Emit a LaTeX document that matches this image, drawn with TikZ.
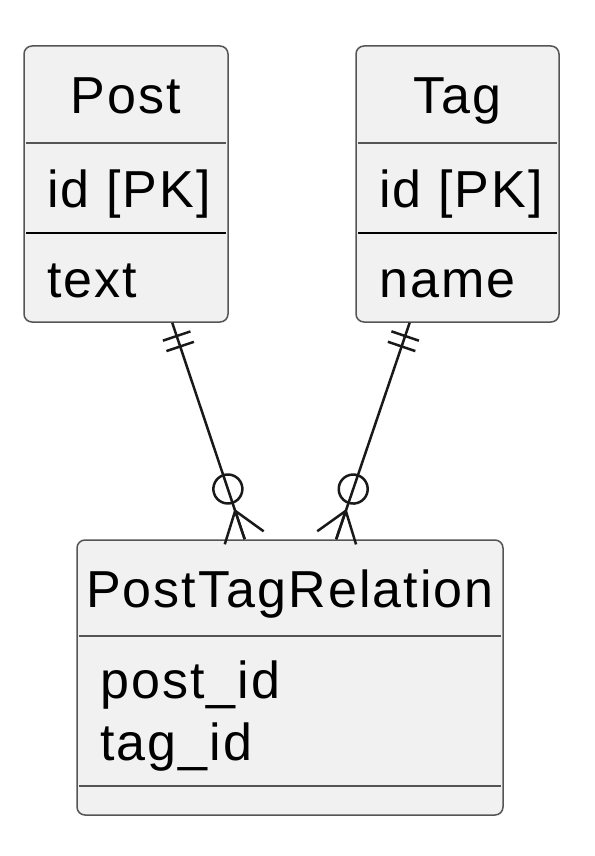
\documentclass[tikz,border=0pt]{standalone}
\usepackage{fontspec}
\setmainfont{Liberation Sans}
\newfontfamily\entfont[LetterSpace=4]{Liberation Sans}
\usepackage{tikz}
\usetikzlibrary{calc, decorations.markings}
\definecolor{entfill}{RGB}{241,241,241}
\definecolor{entline}{RGB}{85,85,85}

\begin{document}
\begin{tikzpicture}[
    entbox/.style = {rectangle, draw=entline, fill=entfill, line width=0.03cm, rounded corners=0.16cm, minimum height=5.52cm, inner sep=0pt},
    enttitle/.style = {anchor=base, inner sep=0pt, font=\entfont\fontsize{29.6pt}{36pt}\selectfont},
    entfield/.style = {anchor=base west, inner sep=0pt, font=\entfont\fontsize{29.6pt}{36pt}\selectfont},
    thinsep/.style = {draw=entline, line width=0.025cm},
    keysep/.style = {draw=black, line width=0.045cm},
    relation/.style = {draw=black!90, line width=0.05cm, postaction={decorate}, decoration={markings,
        mark=at position 0.28cm with {\draw (0,-0.29) -- (0,0.29);},
        mark=at position 0.5cm with {\draw (0,-0.29) -- (0,0.29);},
        mark=at position -1.06cm with {\draw (0,0) circle (0.29);},
        mark=at position -0.6cm with {\draw (0,0) -- (0.6,0) (0,0) -- (0.57,0.41) (0,0) -- (0.57,-0.41);}}}
]
\useasboundingbox (0,0) rectangle (11.9,-17.12);

% entities
\node (post) [entbox, minimum width=4.08cm] at (2.52, -3.68) {};
\node (tag) [entbox, minimum width=4.06cm] at (9.15, -3.68) {};
\node (ptr) [entbox, minimum width=8.52cm, minimum height=5.5cm] at (5.8, -13.55) {};

\draw [thinsep] ($(post.west |- 0,-2.86)+(0.06,0)$) -- ($(post.east |- 0,-2.86)+(-0.06,0)$);
\draw [keysep] ($(post.west |- 0,-4.66)+(0.06,0)$) -- ($(post.east |- 0,-4.66)+(-0.06,0)$);
\draw [thinsep] ($(tag.west |- 0,-2.86)+(0.06,0)$) -- ($(tag.east |- 0,-2.86)+(-0.06,0)$);
\draw [keysep] ($(tag.west |- 0,-4.66)+(0.06,0)$) -- ($(tag.east |- 0,-4.66)+(-0.06,0)$);
\draw [thinsep] ($(ptr.west |- 0,-12.72)+(0.06,0)$) -- ($(ptr.east |- 0,-12.72)+(-0.06,0)$);
\draw [thinsep] ($(ptr.west |- 0,-15.72)+(0.06,0)$) -- ($(ptr.east |- 0,-15.72)+(-0.06,0)$);

\node (post_title) [enttitle] at (2.52, -2.26) {Post};
\node (post_key) [entfield] at (0.94, -4.14) {id [PK]};
\node (post_text) [entfield] at (0.94, -5.94) {text};

\node (tag_title) [enttitle] at (9.15, -2.26) {Tag};
\node (tag_key) [entfield] at (7.58, -4.14) {id [PK]};
\node (tag_name) [entfield] at (7.58, -5.94) {name};

\node (ptr_title) [enttitle] at (5.8, -12.14) {PostTagRelation};
\node (ptr_post) [entfield] at (2.0, -13.96) {post\_id};
\node (ptr_tag) [entfield] at (2.0, -15.2) {tag\_id};

% relations
\draw [relation] ($(post.south west)!0.725!(post.south east)$) -- ($(ptr.north west)!0.394!(ptr.north east)$);
\draw [relation] ($(tag.south west)!0.266!(tag.south east)$) -- ($(ptr.north west)!0.608!(ptr.north east)$);

\end{tikzpicture}
\end{document}
